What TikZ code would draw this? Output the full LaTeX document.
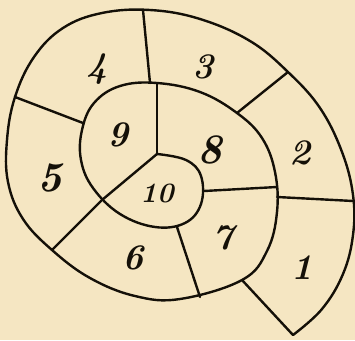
\documentclass[tikz,border=0pt]{standalone}
\usepackage{fontspec}
\usepackage{tikz}
\definecolor{paper}{HTML}{F5E6C2}
\definecolor{ink}{HTML}{141008}
\tikzset{
  wall/.style={draw=ink, line width=2.4pt, line join=round, line cap=round},
  num/.style={text=ink, font=\fontsize{36}{36}\selectfont\bfseries\itshape, inner sep=0pt},
  bignum/.style={text=ink, font=\fontsize{42}{42}\selectfont\bfseries\itshape, inner sep=0pt},
  smallnum/.style={text=ink, font=\fontsize{28}{28}\selectfont\bfseries\itshape, inner sep=0pt}
}
\begin{document}
\begin{tikzpicture}[x=1pt,y=-1pt]
\fill[paper] (0,0) rectangle (355,340);
\useasboundingbox (0,0) rectangle (355,340);
% junction coordinates
\coordinate (tip) at (293,335);
\coordinate (b1) at (242,280);
\coordinate (i12) at (277,197);
\coordinate (o12) at (353,201);
\coordinate (i23) at (237,113);
\coordinate (o23) at (288,72);
\coordinate (i34) at (150,83);
\coordinate (o34) at (143,10);
\coordinate (i45) at (83,123);
\coordinate (o45) at (15,97);
\coordinate (o56) at (52,250);
\coordinate (i56) at (102,200);
\coordinate (c) at (157,154);
\coordinate (i67) at (177,227);
\coordinate (o67) at (200,297);
\coordinate (i78) at (204,191);
\coordinate (o78) at (277,187);
\coordinate (t89) at (157,83);
% spiral wall
\draw[wall] plot[smooth, tension=0.65] coordinates {
 (tip) (322,309) (343,274) (353,235) (353,195) (342,152) (320,108) (288,72)
 (250,41) (200,19) (150,10) (102,13) (63,28) (34,57) (o45) (7,140) (8,182) (23,219) (o56)
 (90,278) (135,296) (180,299) (b1) (267,251) (277,212) (275,172) (262,138) (i23)
 (200,92) (t89) (120,86) (94,103) (82,130) (81,160) (93,188) (120,214) (155,227) (185,223)
 (201,204) (201,176) (186,160) (c)};
% radial walls
\draw[wall] (b1) -- (tip);
\draw[wall] (i12) -- (o12);
\draw[wall] (i23) -- (o23);
\draw[wall] (i34) -- (o34);
\draw[wall] (i45) -- (o45);
\draw[wall] (o56) -- (i56) -- (c);
\draw[wall] (i67) -- (o67);
\draw[wall] (i78) -- (o78);
\draw[wall] (t89) -- (c);
% labels
\node[num] (n1) at (302,268) {1};
\node[num] (n2) at (300,153) {2};
\node[num] (n3) at (203,67) {3};
\node[num] (n4) at (97,69) {4};
\node[bignum] (n5) at (50,178) {5};
\node[num] (n6) at (133,258) {6};
\node[num] (n7) at (223,238) {7};
\node[bignum] (n8) at (210,150) {8};
\node[num] (n9) at (118,135) {9};
\node[smallnum] (n10) at (157,193) {10};
\end{tikzpicture}
\end{document}
